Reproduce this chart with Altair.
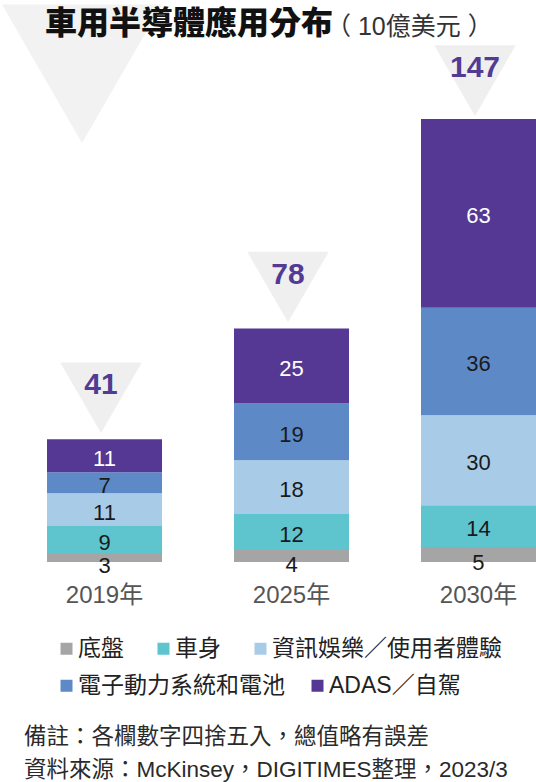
import altair as alt
import pandas as pd

# ---------------- data ----------------
years = ["2019年", "2025年", "2030年"]
categories = ["底盤", "車身", "資訊娛樂／使用者體驗", "電子動力系統和電池", "ADAS／自駕"]
chassis = [3, 4, 5]
body = [9, 12, 14]
infotainment = [11, 18, 30]
powertrain = [7, 19, 36]
adas = [11, 25, 63]
totals = [41, 78, 147]
colors = ["#a5a5a5", "#5ec5cf", "#a8cce8", "#5d8ac6", "#543893"]
title_text = "車用半導體應用分布"
unit_text = "（ 10億美元 ）"
notes = ["備註：各欄數字四捨五入，總值略有誤差",
         "資料來源：McKinsey，DIGITIMES整理，2023/3"]

series = [chassis, body, infotainment, powertrain, adas]
rows = []
for ci, (cat, vals) in enumerate(zip(categories, series)):
    for yr, v in zip(years, vals):
        rows.append({"year": yr, "cat": cat, "idx": ci, "v": v})
df = pd.DataFrame(rows)
tot_df = pd.DataFrame({"year": years, "total": totals})
one = pd.DataFrame({"k": [0]})

NUM = "Liberation Sans, Noto Sans CJK TC"
CJK = "Noto Sans CJK TC"
LATIN_CJK = "Liberation Sans, Noto Sans CJK TC"

x_scale = alt.Scale(domain=years, paddingInner=0.385, paddingOuter=0.1257, align=1)
y_scale = alt.Scale(domain=[0, 187.8], nice=False, zero=True)
color_scale = alt.Scale(domain=categories, range=colors)
fill_scale = alt.Scale(domain=categories[3:], range=colors[3:])

X = alt.X("year:N", scale=x_scale,
          axis=alt.Axis(title=None, domain=False, ticks=False, labelAngle=0,
                        labelFont=NUM, labelFontSize=24, labelColor="#555555",
                        labelPadding=21))

legend_common = dict(title=None, orient="none", direction="horizontal",
                     symbolType="square", symbolSize=144, symbolStrokeWidth=0,
                     labelFont=LATIN_CJK, labelFontSize=23, labelColor="#222222",
                     labelOffset=0, labelLimit=400, padding=0)

# decorative background triangle
bg_tri = alt.Chart(one).mark_point(
    shape="triangle-down", filled=True, size=25600, color="#f2f2f2",
    opacity=1, strokeWidth=0
).encode(x=alt.value(82), y=alt.value(73.7))

tri = alt.Chart(tot_df).mark_point(
    shape="triangle-down", filled=True, size=6642, color="#efefef",
    opacity=1, strokeWidth=0, xOffset=-3.5, yOffset=-41.5
).encode(x=X, y=alt.Y("total:Q", scale=y_scale, axis=None))

bars = alt.Chart(df).mark_bar().encode(
    x=X,
    y=alt.Y("v:Q", stack="zero", scale=y_scale, axis=None),
    color=alt.Color("cat:N", scale=color_scale,
                    legend=alt.Legend(values=categories[:3], legendX=55, legendY=637,
                                      columnPadding=28, **legend_common)),
    order=alt.Order("idx:Q", sort="ascending"),
)

# second legend row (drawn from an empty copy of the data)
legend_row2 = alt.Chart(df).transform_filter("datum.idx >= 3").transform_filter(
    "false").mark_bar().encode(
    x=X,
    y=alt.Y("v:Q", scale=y_scale, axis=None),
    fill=alt.Fill("cat:N", scale=fill_scale,
                  legend=alt.Legend(legendX=55, legendY=674, columnPadding=21,
                                    **legend_common)),
)

seg = alt.Chart(df).transform_stack(
    stack="v", groupby=["year"], as_=["y0", "y1"],
    sort=[alt.SortField("idx", order="ascending")]
).transform_calculate(mid="(datum.y0 + datum.y1) / 2")

seg_labels = seg.transform_filter("datum.idx > 0").mark_text(
    font=NUM, fontSize=22, dy=3, baseline="middle"
).encode(
    x=X, y=alt.Y("mid:Q", scale=y_scale, axis=None), text="v:Q",
    color=alt.condition("datum.idx == 4", alt.value("#ffffff"), alt.value("#1a1a1a")),
)

base_labels = seg.transform_filter("datum.idx == 0").mark_text(
    font=NUM, fontSize=22, dy=8.5, baseline="middle", color="#1a1a1a"
).encode(x=X, y=alt.Y("mid:Q", scale=y_scale, axis=None), text="v:Q")

tot_text = alt.Chart(tot_df).mark_text(
    font=NUM, fontWeight="bold", fontSize=30, color="#523b93",
    dx=-3.5, dy=-54, baseline="middle"
).encode(x=X, y=alt.Y("total:Q", scale=y_scale, axis=None), text="total:Q")

title = alt.Chart(one).mark_text(
    text=title_text, font=CJK, fontWeight=900, fontSize=32, color="#111111",
    align="left", baseline="middle"
).encode(x=alt.value(45), y=alt.value(24))

unit = alt.Chart(one).mark_text(
    text=unit_text, font=LATIN_CJK, fontSize=25, color="#333333",
    align="left", baseline="middle"
).encode(x=alt.value(326), y=alt.value(27))

footer = alt.Chart(one).mark_text(
    text=notes, font=LATIN_CJK, fontSize=22.5, color="#2a2a2a",
    align="left", baseline="middle", lineHeight=33
).encode(x=alt.value(24), y=alt.value(737))

chart = alt.layer(
    bg_tri, tri, bars, legend_row2, seg_labels, base_labels, tot_text, title, unit, footer
).properties(
    width=536, height=562,
    autosize=alt.AutoSizeParams(type="none"),
    padding={"left": 0, "top": 0, "right": 0, "bottom": 220},
).resolve_scale(fill="independent").configure_view(strokeWidth=0)

chart.save("out.html", embed_options={"renderer": "svg", "actions": False})
